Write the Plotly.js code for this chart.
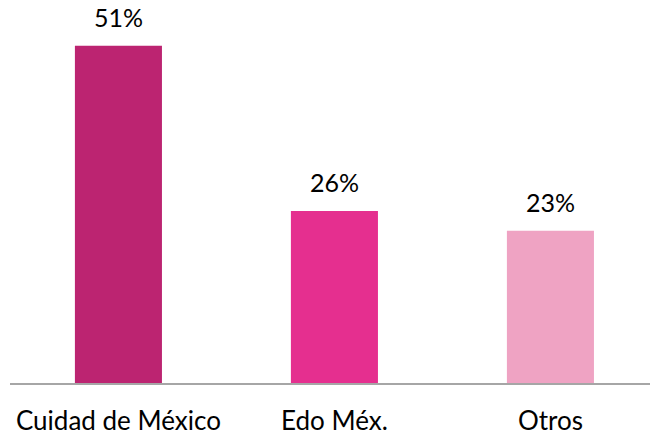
<!DOCTYPE html>
<html>
<head>
<meta charset="utf-8">
<script src="https://cdn.plot.ly/plotly-3.0.1.min.js"></script>
<style>html,body{margin:0;padding:0;background:#fff;}#chart{width:650px;height:435px;}</style>
</head>
<body>
<div id="chart"></div>
<script>
const categories = ["Cuidad de México", "Edo Méx.", "Otros"];
const values = [51, 26, 23];
const labels = ["51%", "26%", "23%"];
const colors = ["#BC2471", "#E52F8F", "#EFA3C3"];

const xs = categories.map((c, i) => i);

const trace = {
  type: "bar",
  x: xs,
  y: values,
  width: 0.403,
  marker: {color: colors},
  hoverinfo: "none"
};

const annotations = values.map((v, i) => ({
  x: xs[i], y: v, text: labels[i], showarrow: false,
  xanchor: "center", yanchor: "bottom", yshift: 12,
  font: {family: "Lato, 'Open Sans', sans-serif", size: 25, color: "#000"}
}));

const layout = {
  width: 650, height: 435,
  margin: {l: 10, r: 0, t: 0, b: 52},
  paper_bgcolor: "#fff", plot_bgcolor: "#fff",
  showlegend: false,
  xaxis: {
    range: [-0.502, 2.461],
    tickvals: xs, ticktext: categories,
    showgrid: false, zeroline: false,
    showline: true, linecolor: "#A6A6A6", linewidth: 1.5,
    ticks: "outside", ticklen: 14, tickcolor: "rgba(0,0,0,0)",
    tickfont: {family: "Lato, 'Open Sans', sans-serif", size: 26, color: "#000"}
  },
  yaxis: {
    range: [0, 57.9], visible: false, showgrid: false, zeroline: false
  },
  annotations: annotations
};

Plotly.newPlot("chart", [trace], layout, {displayModeBar: false, staticPlot: true});
</script>
</body>
</html>
